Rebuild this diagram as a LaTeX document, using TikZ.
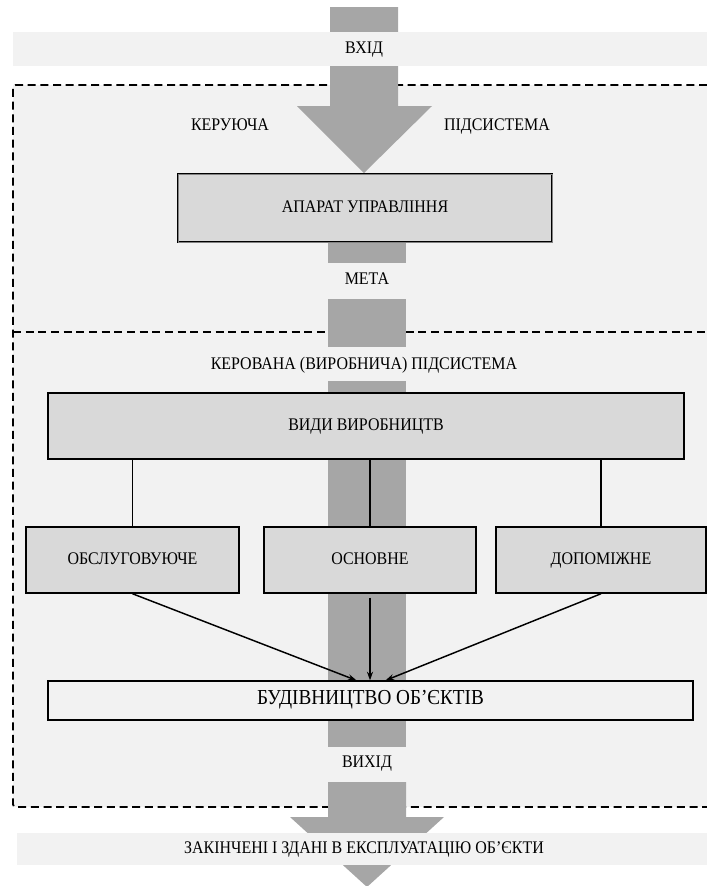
\documentclass[tikz,border=0pt]{standalone}
\usepackage{fontspec}
\setmainfont{Liberation Serif}[FakeStretch=0.9]
\usetikzlibrary{arrows.meta,calc}
\definecolor{BandGray}{RGB}{242,242,242}
\definecolor{FlowGray}{RGB}{166,166,166}
\definecolor{BoxGray}{RGB}{217,217,217}

\begin{document}
\begin{tikzpicture}[x=0.75pt, y=-0.75pt,
    box/.style={rectangle, draw=black, line width=1.1pt, fill=BoxGray, inner sep=0pt,
                text height=0.72em, text depth=0.12em, font=\fontsize{13.3}{15}\selectfont},
    txt/.style={inner sep=0pt, text height=0.72em, text depth=0.12em,
                font=\fontsize{13.3}{15}\selectfont},
    flow/.style={fill=FlowGray},
    band/.style={fill=BandGray},
    dashframe/.style={draw=black, line width=1.4pt, dash pattern=on 6pt off 3.5pt},
    arrow/.style={-{Stealth[length=6.5pt, width=4.5pt]}, line width=1.1pt},
    link/.style={line width=1.1pt}
]
    \useasboundingbox (0,0) rectangle (707,886);

    % subsystem frame
    \fill[band] (13,85) rectangle (707,807);
    \draw[dashframe, rounded corners=2pt] (707,85) -- (13,85) -- (13,807) -- (707,807);
    \draw[dashframe] (13,332) -- (707,332);

    % flow
    \fill[flow] (330,7) -- (398,7) -- (398,106) -- (432,106) -- (364,173)
        -- (297,106) -- (330,106) -- cycle;
    \fill[flow] (328,242) rectangle (406,263);
    \fill[flow] (328,299) rectangle (406,347);
    \fill[flow] (328,381) rectangle (406,747);
    \fill[flow] (328,782) -- (406,782) -- (406,817) -- (444,817) -- (367,887)
        -- (290,817) -- (328,817) -- cycle;

    % input and output bands
    \fill[band] (13,32) rectangle (707,66);
    \fill[band] (17,833) rectangle (707,865);

    \node[txt] (vhid) at (364,49) {ВХІД};
    \node[txt] (keruyucha) at (230,126) {КЕРУЮЧА};
    \node[txt] (pidsystema) at (497,126) {ПІДСИСТЕМА};
    \node[box, minimum width=280.5pt, minimum height=51pt, line width=0.9pt,
          double=BoxGray!60!black, double distance=0.4pt] (aparat) at (365,208) {АПАРАТ УПРАВЛІННЯ};
    \node[txt] (meta) at (367,280) {МЕТА};
    \node[txt] (kerovana) at (364,365) {КЕРОВАНА (ВИРОБНИЧА) ПІДСИСТЕМА};

    \node[box, minimum width=477pt, minimum height=49.5pt] (vydy) at (366,426) {ВИДИ ВИРОБНИЦТВ};
    \node[box, minimum width=159.75pt, minimum height=49.5pt] (obsl) at (132.5,560) {ОБСЛУГОВУЮЧЕ};
    \node[box, minimum width=159pt, minimum height=49.5pt] (osn) at (370,560) {ОСНОВНЕ};
    \node[box, minimum width=157.5pt, minimum height=49.5pt] (dop) at (601,560) {ДОПОМІЖНЕ};
    \node[box, fill=BandGray, line width=0.9pt, minimum width=483.75pt, minimum height=29.25pt,
          font=\fontsize{16}{18}\selectfont] (bud) at (370.5,700.5) {БУДІВНИЦТВО ОБ’ЄКТІВ};

    \node[txt] (vyhid) at (367,763) {ВИХІД};
    \node[txt] (rezult) at (364,849) {ЗАКІНЧЕНІ І ЗДАНІ В ЕКСПЛУАТАЦІЮ ОБ’ЄКТИ};

    % connectors
    \draw[link] (obsl.north) -- (obsl.north |- vydy.south);
    \draw[link] (osn.north) -- (osn.north |- vydy.south);
    \draw[link] (dop.north) -- (dop.north |- vydy.south);
    \draw[arrow] (obsl.south) -- ($(bud.north)+(-14,0)$);
    \draw[arrow, shorten <=3pt] (osn.south) -- (osn.south |- bud.north);
    \draw[arrow] (dop.south) -- ($(bud.north)+(15,0)$);
\end{tikzpicture}
\end{document}
